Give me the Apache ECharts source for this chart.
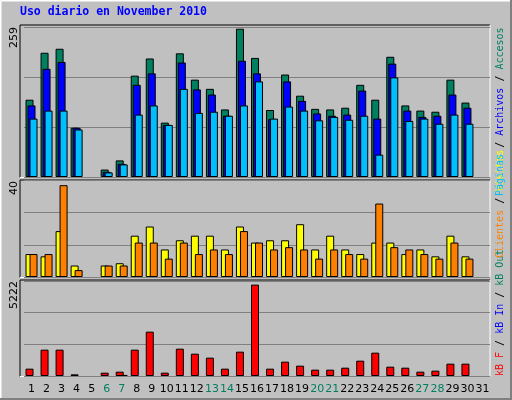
<!DOCTYPE html>
<html>
<head>
<meta charset="utf-8">
<script src="https://cdn.jsdelivr.net/npm/echarts@6/dist/echarts.min.js"></script>
<style>html,body{margin:0;padding:0;background:#c0c0c0;}</style>
</head>
<body>
<div id="main" style="width:512px;height:400px;"></div>
<script>
var days = [];
for (var d = 1; d <= 31; d++) days.push(String(d));
var weekend = ['6', '7', '13', '14', '20', '21', '27', '28'];

// panel 1
var hits  = [135, 217, 224, 86, 0, 13, 29, 177, 207, 95, 216, 170, 154, 118, 259, 208, 117, 179, 142, 119, 118, 121, 161, 135, 210, 125, 116, 114, 170, 130, 0];
var files = [125, 189, 201, 86, 0, 9, 23, 161, 181, 91, 200, 153, 144, 107, 203, 181, 101, 167, 133, 111, 107, 109, 151, 102, 198, 116, 105, 107, 144, 121, 0];
var pages = [102, 116, 116, 83, 0, 8, 22, 109, 125, 91, 154, 112, 114, 107, 125, 167, 102, 123, 116, 99, 105, 100, 107, 39, 174, 98, 102, 93, 109, 93, 0];
// panel 2
var visits  = [10, 9, 20, 5, 0, 5, 6, 18, 22, 12, 16, 18, 18, 12, 22, 15, 16, 16, 23, 12, 18, 12, 10, 15, 15, 10, 12, 9, 18, 9, 0];
var clients = [10, 10, 40, 3, 0, 5, 5, 15, 15, 8, 15, 10, 12, 10, 20, 15, 12, 13, 12, 8, 12, 10, 8, 32, 13, 12, 10, 8, 15, 8, 0];
// panel 3
var kbF  = [419, 1505, 1505, 95, 0, 190, 248, 1505, 2534, 190, 1562, 1276, 1048, 419, 1391, 5222, 419, 819, 591, 362, 362, 476, 876, 1334, 533, 476, 248, 305, 705, 705, 0];
var kbIn = [0, 0, 0, 0, 0, 0, 60, 0, 0, 0, 0, 0, 0, 0, 0, 0, 0, 0, 0, 0, 0, 0, 0, 0, 0, 0, 0, 0, 0, 0, 0];

var max1 = 262, max2 = 42, max3 = 5430;
var mono = 'DejaVu Sans Mono';

var myChart = echarts.init(document.getElementById('main'));

function yAx(idx, max) {
    return {
        type: 'value', gridIndex: idx, min: 0, max: max, interval: max / 3,
        axisLabel: { show: false }, axisLine: { show: false }, axisTick: { show: false },
        splitLine: { lineStyle: { color: '#808080', width: 1 } }
    };
}
function xAx(idx, show) {
    return {
        type: 'category', gridIndex: idx, data: days,
        axisLine: { show: false }, axisTick: { show: false },
        axisLabel: {
            show: show, interval: 0, margin: 8, fontFamily: 'DejaVu Sans', fontSize: 11,
            color: function (v) { return weekend.indexOf(v) >= 0 ? '#008060' : '#000'; }
        }
    };
}
function bar(name, data, color, x, w, gap) {
    return {
        name: name, type: 'bar', xAxisIndex: x, yAxisIndex: x,
        data: data.map(function (v) { return v === 0 ? '-' : v; }),
        barWidth: w, barGap: gap, animation: false,
        itemStyle: { color: color, borderColor: '#000', borderWidth: 1 }
    };
}
function panel(y1, y2) {
    return [
        { type: 'line', shape: { x1: 20, y1: y1, x2: 490, y2: y1 }, style: { stroke: '#000', lineWidth: 1 } },
        { type: 'line', shape: { x1: 20, y1: y1, x2: 20, y2: y2 }, style: { stroke: '#000', lineWidth: 1 } },
        { type: 'line', shape: { x1: 20, y1: y2, x2: 490, y2: y2 }, style: { stroke: '#fff', lineWidth: 1 } },
        { type: 'line', shape: { x1: 490, y1: y1, x2: 490, y2: y2 }, style: { stroke: '#fff', lineWidth: 1 } }
    ];
}
function vtext(x, y, txt, color) {
    return { type: 'text', x: x, y: y, rotation: Math.PI / 2,
        style: { text: txt, fill: color, font: '11px DejaVu Sans', textAlign: 'right', textVerticalAlign: 'middle' } };
}

var graphics = [
    { type: 'line', shape: { x1: 0.5, y1: 0.5, x2: 511, y2: 0.5 }, style: { stroke: '#fff', lineWidth: 2 } },
    { type: 'line', shape: { x1: 0.5, y1: 0.5, x2: 0.5, y2: 399 }, style: { stroke: '#fff', lineWidth: 2 } },
    { type: 'line', shape: { x1: 0, y1: 399, x2: 512, y2: 399 }, style: { stroke: '#808080', lineWidth: 2 } },
    { type: 'line', shape: { x1: 511, y1: 0, x2: 511, y2: 400 }, style: { stroke: '#808080', lineWidth: 2 } },
    { type: 'text', x: 20, y: 12, style: { text: 'Uso diario en November 2010', fill: '#0000ff', font: 'bold 11.5px ' + mono, textVerticalAlign: 'middle' } },
    vtext(14, 27, '259', '#000'),
    vtext(14, 181, '40', '#000'),
    vtext(14, 281, '5222', '#000'),
    { type: 'text', x: 500, y: 376, rotation: Math.PI / 2, style: {
        text: '{r|kB F}{k| / }{b|kB In}{k| / }{g|kB Out}', font: '10px ' + mono, textVerticalAlign: 'middle',
        rich: { r: { fill: '#ff0000' }, b: { fill: '#0000ff' }, g: { fill: '#008060' }, k: { fill: '#000' } } } },
    { type: 'text', x: 500, y: 258, rotation: Math.PI / 2, style: {
        text: '{o|Clientes}{k| / }{y|Visitas}', font: '10px ' + mono, textVerticalAlign: 'middle',
        rich: { o: { fill: '#ff8000' }, y: { fill: '#ffff00' }, k: { fill: '#000' } } } },
    { type: 'text', x: 500, y: 196, rotation: Math.PI / 2, style: {
        text: '{c|Páginas}{k| / }{b|Archivos}{k| / }{g|Accesos}', font: '10px ' + mono, textVerticalAlign: 'middle',
        rich: { c: { fill: '#00bfff' }, b: { fill: '#0000ff' }, g: { fill: '#008060' }, k: { fill: '#000' } } } }
].concat(panel(25, 177.5), panel(180, 277.5), panel(280, 376.5));

var option = {
    backgroundColor: '#c0c0c0',
    animation: false,
    grid: [
        { left: 24, width: 466, top: 27, height: 150 },
        { left: 24, width: 466, top: 180.6, height: 96.4 },
        { left: 24, width: 466, top: 281, height: 95 }
    ],
    xAxis: [xAx(0, false), xAx(1, false), xAx(2, true)],
    yAxis: [yAx(0, max1), yAx(1, max2), yAx(2, max3)],
    series: [
        bar('Accesos', hits, '#008060', 0, 8, '-75%'),
        bar('Archivos', files, '#0000ff', 0, 8, '-75%'),
        bar('Páginas', pages, '#00bfff', 0, 8, '-75%'),
        bar('Visitas', visits, '#ffff00', 1, 8, '-50%'),
        bar('Clientes', clients, '#ff8000', 1, 8, '-50%'),
        bar('kB F', kbF, '#ff0000', 2, 8, '-50%'),
        bar('kB In', kbIn, '#000000', 2, 8, '-50%')
    ],
    graphic: graphics
};
myChart.setOption(option);
</script>
</body>
</html>
